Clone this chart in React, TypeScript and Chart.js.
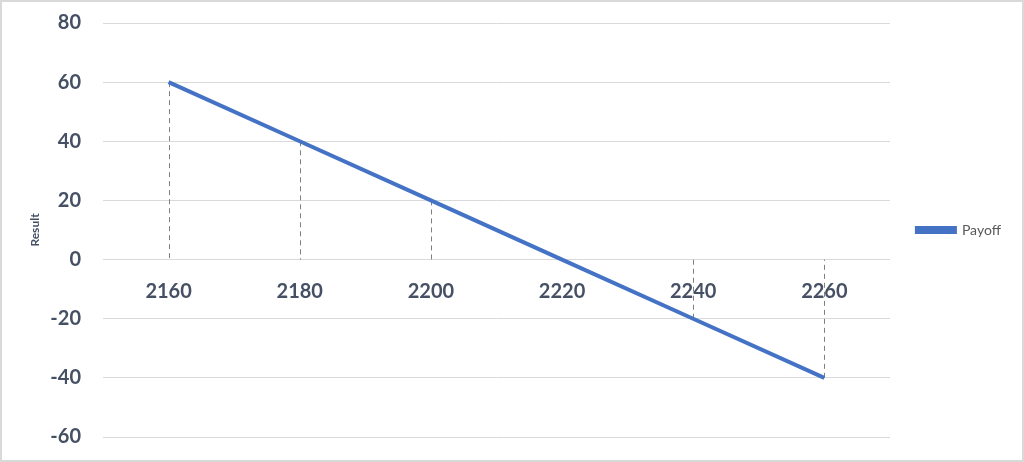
import React, { useEffect, useRef } from "react";
import { Chart, registerables } from "chart.js";

Chart.register(...registerables);

const categories = ["2160", "2180", "2200", "2220", "2240", "2260"];
const payoff = [60, 40, 20, 0, -20, -40];
const seriesName = "Payoff";
const yTitle = "Result";

const dropLines = {
  id: "dropLines",
  beforeDatasetsDraw(chart: any) {
    const meta = chart.getDatasetMeta(0);
    const y0 = chart.scales.y.getPixelForValue(0);
    const ctx = chart.ctx;
    ctx.save();
    ctx.strokeStyle = "#7f7f7f";
    ctx.lineWidth = 1;
    ctx.setLineDash([5, 4]);
    meta.data.forEach((pt: any) => {
      const x = Math.round(pt.x) + 0.5;
      ctx.beginPath();
      ctx.moveTo(x, pt.y);
      ctx.lineTo(x, y0);
      ctx.stroke();
    });
    ctx.restore();
  },
};

export default function App() {
  const ref = useRef<HTMLCanvasElement>(null);
  useEffect(() => {
    const tickColor = "#465064";
    const chart = new Chart(ref.current!, {
      type: "line",
      data: {
        labels: categories,
        datasets: [
          {
            label: seriesName,
            data: payoff,
            borderColor: "#4472C4",
            backgroundColor: "#4472C4",
            borderWidth: 4,
            pointRadius: 0,
            tension: 0,
          },
        ],
      },
      options: {
        animation: false,
        responsive: true,
        maintainAspectRatio: false,
        layout: { padding: { top: 21, bottom: 23, left: 26, right: 11 } },
        plugins: {
          legend: {
            position: "right",
            maxWidth: 132,
            labels: {
              boxWidth: 38,
              boxHeight: 4,
              color: "#595959",
              font: { family: "Lato", size: 14 },
              padding: 27,
            },
          },
          tooltip: { enabled: false },
        },
        scales: {
          x: {
            type: "category",
            position: { y: 0 } as any,
            offset: true,
            afterFit(scale: any) {
              scale.height = 0;
            },
            grid: { display: false, drawTicks: false },
            border: { display: true, color: "#d9d9d9" },
            ticks: {
              color: tickColor,
              font: { family: "Lato", size: 20, weight: "bold" },
              padding: 20,
              maxRotation: 0,
            },
          },
          y: {
            min: -60,
            max: 80,
            afterFit(scale: any) {
              scale.width = 75;
              scale.paddingTop = 0;
              scale.paddingBottom = 0;
            },
            ticks: {
              stepSize: 20,
              color: tickColor,
              font: { family: "Lato", size: 20, weight: "bold" },
              padding: 22,
            },
            grid: { color: "#d9d9d9", drawTicks: false },
            border: { display: false },
            title: {
              display: true,
              text: yTitle,
              color: tickColor,
              font: { family: "Lato", size: 12, weight: "bold" },
              padding: 0,
            },
          },
        },
      },
      plugins: [dropLines],
    });
    return () => chart.destroy();
  }, []);
  return (
    <div
      style={{
        position: "fixed",
        left: 0,
        top: 0,
        width: 1024,
        height: 462,
        boxSizing: "border-box",
        border: "2px solid #d9d9d9",
        background: "#fff",
      }}
    >
      <canvas ref={ref} />
    </div>
  );
}
